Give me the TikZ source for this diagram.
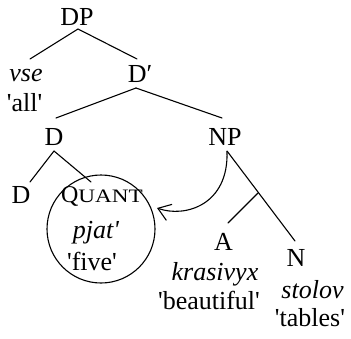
\documentclass[tikz,border=0pt]{standalone}
\usepackage{fontspec}
\setmainfont{Liberation Serif}[Ligatures=TeXOff]
\usetikzlibrary{arrows.meta}
\begin{document}
\begin{tikzpicture}[x=1pt,y=-1pt,
  lbl/.style={anchor=base,inner sep=0pt,outer sep=0pt,font=\fontsize{26}{30}\selectfont},
  it/.style={lbl,font=\fontsize{26}{30}\selectfont\itshape},
  edge/.style={line width=1.1pt,line cap=round},
  mv/.style={line width=1.1pt,-{Straight Barb[length=12pt,width=17pt,line width=1.1pt]}}]
\useasboundingbox (0,0) rectangle (351,338);
% labels
\node[lbl] (DP) at (77,25) {DP};
\node[it]  (vse) at (26,81) {vse};
\node[lbl] (all) at (24.5,111) {'all'};
\node[lbl] (Dbar) at (140,82.7) {D\char"2032};
\node[lbl] (D) at (54,145) {D};
\node[lbl] (NP) at (225,145) {NP};
\node[lbl] (D2) at (21,203) {D};
\node[lbl] (quant) at (102,202) {\fontsize{24}{26}\selectfont Q\scalebox{1.22}[1]{\fontsize{19}{20}\selectfont UANT}};
\node[it]  (pjat) at (96,238) {pjat'};
\node[lbl] (five) at (92,270) {'five'};
\node[lbl] (A) at (223.5,250) {A};
\node[it]  (kras) at (215,280) {krasivyx};
\node[lbl] (beau) at (209,309) {'beautiful'};
\node[lbl] (N) at (296,266) {N};
\node[it]  (stol) at (312.5,298) {stolov};
\node[lbl] (tabl) at (310,326) {'tables'};
% circle
\node[draw,circle,line width=1.1pt,minimum size=108pt,inner sep=0pt] (circ) at (101,229) {};
% connector end points
\coordinate (dpB) at (78,29);
\coordinate (vseT) at (30,59);
\coordinate (dbarT) at (137,59);
\coordinate (dbarB) at (136,88);
\coordinate (dT) at (56,118);
\coordinate (npT) at (222,118);
\coordinate (dB) at (54,151);
\coordinate (d2T) at (30,182);
\coordinate (qT) at (91,182);
\coordinate (npB) at (227,151);
\coordinate (nT) at (295,241);
\coordinate (br) at (258,193);
\coordinate (aT) at (228,223);
\coordinate (tip) at (157,208);
% tree edges
\draw[edge] (dpB) -- (vseT);
\draw[edge] (dpB) -- (dbarT);
\draw[edge] (dbarB) -- (dT);
\draw[edge] (dbarB) -- (npT);
\draw[edge] (dB) -- (d2T);
\draw[edge] (dB) -- (qT);
\draw[edge] (npB) -- (nT);
\draw[edge] (br) -- (aT);
% movement arrow
\draw[mv] (npB) .. controls (229,205) and (185,218) .. (tip);
\end{tikzpicture}
\end{document}
